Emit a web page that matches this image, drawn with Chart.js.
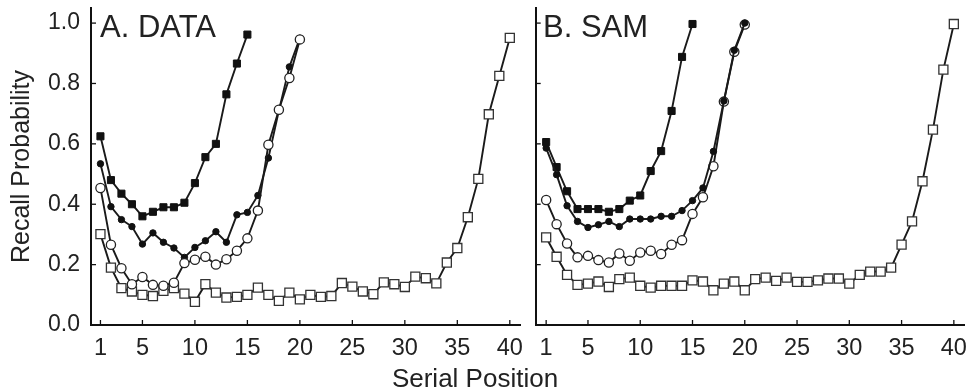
<!DOCTYPE html>
<html>
<head>
<meta charset="utf-8">
<script src="https://cdn.jsdelivr.net/npm/chart.js@4/dist/chart.umd.min.js"></script>
<style>
    html, body { margin: 0; padding: 0; background: #fff; }
    #wrap { position: relative; width: 972px; height: 392px; overflow: hidden; font-family: "Liberation Sans", Arial, sans-serif; color: #222; }
    canvas { position: absolute; top: 0; }
    #left { left: 0; }
    #right { left: 528px; }
    .panel-title { position: absolute; top: 11px; font-size: 31px; line-height: 31px; white-space: nowrap; }
    #xtitle { position: absolute; top: 364px; left: 0; width: 950px; text-align: center; font-size: 26px; line-height: 28px; }
</style>
</head>
<body>
<div id="wrap">
    <canvas id="left" width="528" height="392"></canvas>
    <canvas id="right" width="444" height="392"></canvas>
    <div class="panel-title" style="left:100px">A. DATA</div>
    <div class="panel-title" style="left:543px">B. SAM</div>
    <div id="xtitle">Serial Position</div>
</div>
<script>
// tick values
const xTicks = [1, 5, 10, 15, 20, 25, 30, 35, 40];
const yTicks = [0, 0.2, 0.4, 0.6, 0.8, 1.0];

// A. DATA
const data15 = [0.625, 0.48, 0.435, 0.40, 0.36, 0.375, 0.39, 0.39, 0.405, 0.47, 0.556, 0.60, 0.764, 0.866, 0.962];
const data20Filled = [0.534, 0.392, 0.349, 0.326, 0.268, 0.305, 0.274, 0.255, 0.224, 0.257, 0.279, 0.309, 0.274, 0.365, 0.373, 0.429, 0.553, 0.71, 0.855, 0.95];
const data20Open = [0.454, 0.266, 0.188, 0.135, 0.159, 0.133, 0.13, 0.14, 0.205, 0.216, 0.226, 0.20, 0.218, 0.246, 0.287, 0.379, 0.597, 0.713, 0.818, 0.946];
const data40 = [0.301, 0.19, 0.122, 0.111, 0.10, 0.096, 0.113, 0.122, 0.104, 0.077, 0.135, 0.107, 0.091, 0.093, 0.10, 0.124, 0.10, 0.08, 0.107, 0.085,
    0.10, 0.093, 0.096, 0.139, 0.127, 0.111, 0.102, 0.141, 0.135, 0.126, 0.16, 0.155, 0.138, 0.207, 0.255, 0.357, 0.484, 0.698, 0.825, 0.951];

// B. SAM
const sam15 = [0.606, 0.523, 0.443, 0.384, 0.384, 0.384, 0.375, 0.384, 0.412, 0.429, 0.51, 0.576, 0.709, 0.888, 0.997];
const sam20Filled = [0.586, 0.498, 0.395, 0.343, 0.323, 0.332, 0.343, 0.326, 0.351, 0.351, 0.351, 0.36, 0.36, 0.379, 0.412, 0.454, 0.575, 0.742, 0.91, 1.0];
const sam20Open = [0.414, 0.334, 0.27, 0.224, 0.229, 0.215, 0.207, 0.237, 0.213, 0.24, 0.246, 0.235, 0.266, 0.281, 0.368, 0.423, 0.526, 0.74, 0.905, 0.995];
const sam40 = [0.29, 0.226, 0.166, 0.133, 0.137, 0.144, 0.126, 0.152, 0.157, 0.13, 0.124, 0.13, 0.13, 0.13, 0.148, 0.144, 0.115, 0.137, 0.144, 0.115,
    0.152, 0.157, 0.146, 0.157, 0.143, 0.143, 0.148, 0.154, 0.154, 0.137, 0.166, 0.177, 0.177, 0.19, 0.266, 0.343, 0.476, 0.647, 0.846, 0.997];

Chart.defaults.font.family = '"Liberation Sans", Arial, sans-serif';
Chart.defaults.color = "#222";

function toPoints(values) {
    return values.map(function (v, i) {
        return { x: i + 1, y: v };
    });
}

const markerStyles = {
    filledSquare: { pointStyle: "rect", pointRadius: 5, pointBackgroundColor: "#111", pointBorderColor: "#111", pointBorderWidth: 1 },
    filledCircle: { pointStyle: "circle", pointRadius: 3.2, pointBackgroundColor: "#111", pointBorderColor: "#111", pointBorderWidth: 1 },
    openCircle: { pointStyle: "circle", pointRadius: 4.6, pointBackgroundColor: "#fff", pointBorderColor: "#222", pointBorderWidth: 1.3 },
    openSquare: { pointStyle: "rect", pointRadius: 6.4, pointBackgroundColor: "#fff", pointBorderColor: "#333", pointBorderWidth: 1.3 }
};

function makeDataset(values, kind) {
    return Object.assign({
        data: toPoints(values),
        borderColor: "#1a1a1a",
        borderWidth: 1.9,
        tension: 0,
        fill: false,
        clip: false,
        pointHoverRadius: 0
    }, markerStyles[kind]);
}

// short tick marks pointing into the plot
const inwardTicks = {
    id: "inwardTicks",
    beforeDatasetsDraw: function (chart) {
        const ctx = chart.ctx;
        const area = chart.chartArea;
        const xs = chart.scales.x;
        const ys = chart.scales.y;
        ctx.save();
        ctx.strokeStyle = "#111";
        ctx.lineWidth = 1.3;
        xs.ticks.forEach(function (t) {
            const px = xs.getPixelForValue(t.value);
            ctx.beginPath();
            ctx.moveTo(px, area.bottom);
            ctx.lineTo(px, area.bottom - 5);
            ctx.stroke();
        });
        ys.ticks.forEach(function (t) {
            const py = ys.getPixelForValue(t.value);
            ctx.beginPath();
            ctx.moveTo(area.left, py);
            ctx.lineTo(area.left + 5, py);
            ctx.stroke();
        });
        ctx.restore();
    }
};

function makeChart(canvasId, datasets, opts) {
    return new Chart(document.getElementById(canvasId).getContext("2d"), {
        type: "line",
        data: { datasets: datasets },
        plugins: [inwardTicks],
        options: {
            responsive: false,
            animation: false,
            events: [],
            layout: { padding: { left: 0, top: 8, right: opts.padRight, bottom: 0 } },
            plugins: { legend: { display: false }, tooltip: { enabled: false } },
            scales: {
                x: {
                    type: "linear",
                    min: opts.xMin,
                    max: opts.xMax,
                    afterBuildTicks: function (scale) {
                        scale.ticks = xTicks.map(function (v) { return { value: v }; });
                    },
                    afterFit: function (scale) {
                        scale.height = 67;
                        scale.paddingLeft = 0;
                        scale.paddingRight = 0;
                    },
                    grid: { display: true, drawOnChartArea: false, drawTicks: false },
                    border: { display: true, color: "#111", width: 2 },
                    ticks: {
                        autoSkip: false,
                        maxRotation: 0,
                        padding: 9,
                        color: "#222",
                        font: { size: 23.5 },
                        callback: function (v) { return String(v); }
                    }
                },
                y: {
                    type: "linear",
                    min: 0,
                    max: 1.05,
                    afterBuildTicks: function (scale) {
                        scale.ticks = yTicks.map(function (v) { return { value: v }; });
                    },
                    afterFit: function (scale) {
                        scale.width = opts.yWidth;
                        scale.paddingTop = 0;
                        scale.paddingBottom = 0;
                    },
                    grid: { display: true, drawOnChartArea: false, drawTicks: false },
                    border: { display: true, color: "#111", width: 2 },
                    title: {
                        display: opts.showYLabels,
                        text: "Recall Probability",
                        color: "#222",
                        font: { size: 25 },
                        padding: { top: 7, bottom: 0 }
                    },
                    ticks: {
                        display: opts.showYLabels,
                        padding: 11,
                        color: "#222",
                        font: { size: 23 },
                        callback: function (v) { return Number(v).toFixed(1); }
                    }
                }
            }
        }
    });
}

makeChart("left", [
    makeDataset(data20Open, "openCircle"),
    makeDataset(data20Filled, "filledCircle"),
    makeDataset(data15, "filledSquare"),
    makeDataset(data40, "openSquare")
], { xMin: 0.1, xMax: 41, padRight: 1, yWidth: 91, showYLabels: true });

makeChart("right", [
    makeDataset(sam20Filled, "filledCircle"),
    makeDataset(sam20Open, "openCircle"),
    makeDataset(sam15, "filledSquare"),
    makeDataset(sam40, "openSquare")
], { xMin: 0, xMax: 41, padRight: 5, yWidth: 1, showYLabels: false });
</script>
</body>
</html>
